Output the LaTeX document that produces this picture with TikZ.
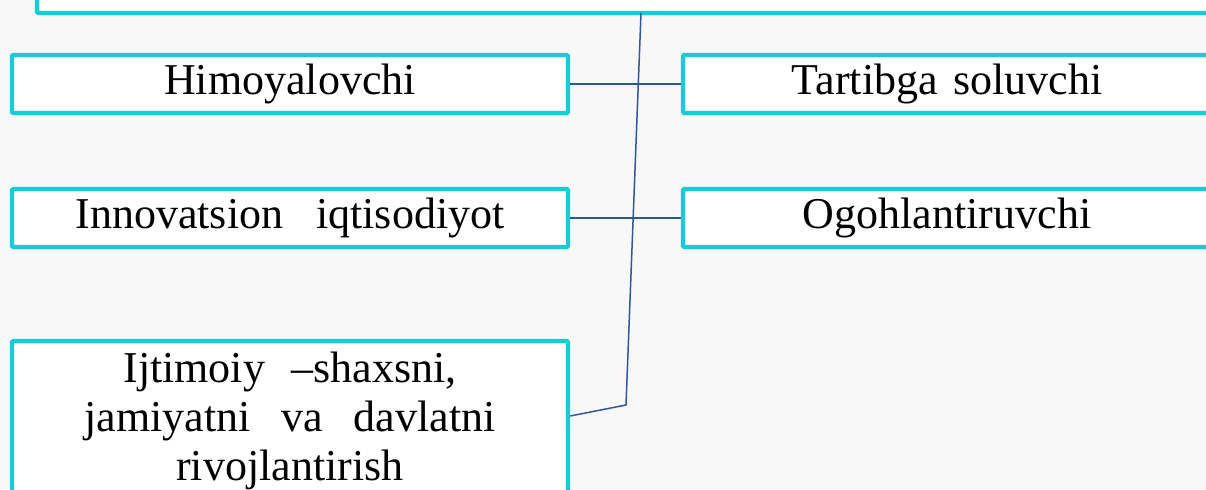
\documentclass[tikz,border=0pt]{standalone}
\usepackage{fontspec}
\setmainfont{Liberation Serif}
\usepackage{tikz}
\usetikzlibrary{calc}

\definecolor{boxcyan}{RGB}{22,204,214}
\definecolor{linkblue}{RGB}{46,88,156}
\definecolor{paper}{RGB}{248,248,248}

\tikzset{
    fbox/.style={draw=boxcyan, line width=2.2pt, fill=white, rounded corners=0.6pt,
        inner sep=0pt, align=center, font=\fontsize{22}{24.5}\selectfont},
    link/.style={draw=linkblue, line width=0.75pt}
}

\begin{document}
\begin{tikzpicture}[x=0.5pt, y=-0.5pt]
    \clip (0,0) rectangle (1206,489);
    \fill[paper] (0,0) rectangle (1206,489);
    \node[fbox, minimum width=600pt, minimum height=60pt] (top) at (637,-47) {};
    \node[fbox, minimum width=278pt, minimum height=29pt] (himoya) at (290,84) {Himoyalovchi};
    \node[fbox, minimum width=264pt, minimum height=29pt] (tartib) at (947,84) {Tartibga\hspace{0.1em} soluvchi};
    \node[fbox, minimum width=278pt, minimum height=29pt] (innov) at (290,218) {Innovatsion\hspace{0.5em} iqtisodiyot};
    \node[fbox, minimum width=264pt, minimum height=29pt] (ogoh) at (947,218) {Ogohlantiruvchi};
    \node[fbox, minimum width=278pt, minimum height=80pt] (ijtim) at (290,421)
        {Ijtimoiy\hspace{0.35em} --shaxsni,\\jamiyatni\hspace{0.45em} va\hspace{0.45em} davlatni\\rivojlantirish};
    \coordinate (spine) at (641,13);
    \coordinate (knee) at (626,405);
    \draw[link] (spine) -- (knee) -- ($(ijtim.east)+(0,-5)$);
    \draw[link] (himoya.east) -- (tartib.west);
    \draw[link] (innov.east) -- (ogoh.west);
\end{tikzpicture}
\end{document}
